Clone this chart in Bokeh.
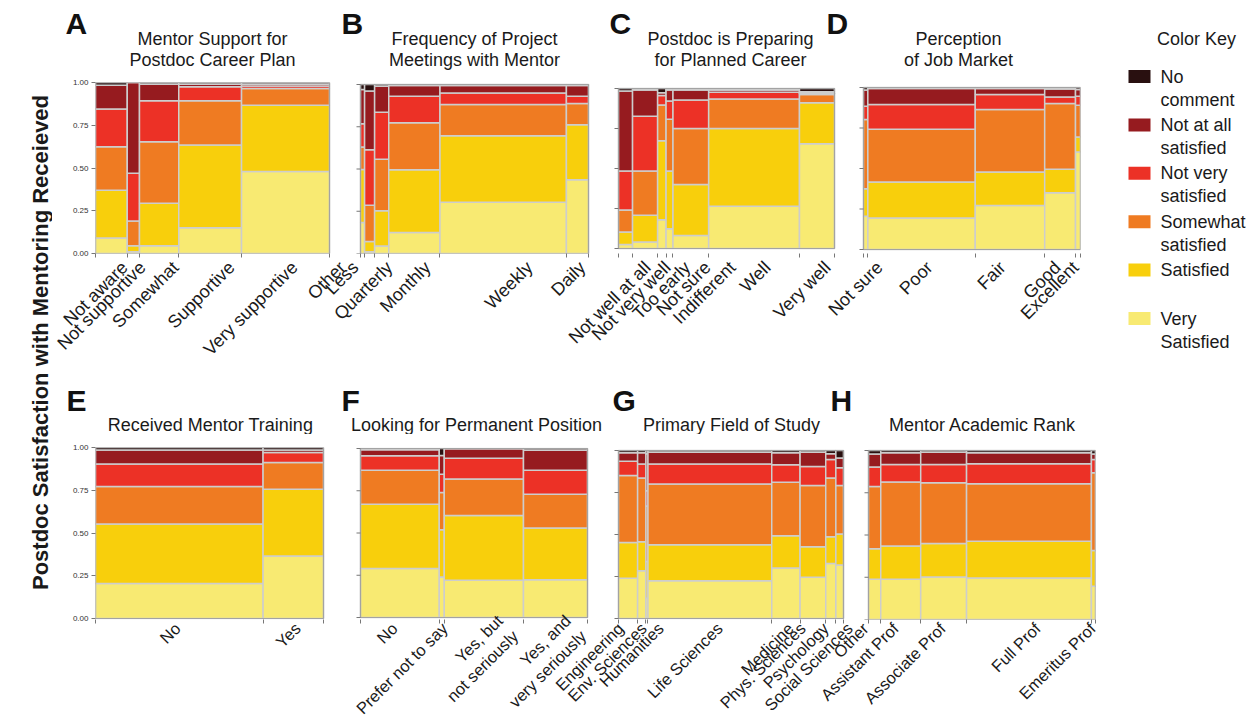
import math
from bokeh.plotting import figure
from bokeh.models import Range1d, FixedTicker, ColumnDataSource, NumeralTickFormatter
from bokeh.layouts import row, column
from bokeh.embed import file_html
from bokeh.resources import INLINE
from bokeh.core.properties import value

# ------------------------------------------------------------------ data
# satisfaction levels, stacked from the bottom of each column upward
LEVELS = ["Very Satisfied", "Satisfied", "Somewhat satisfied",
          "Not very satisfied", "Not at all satisfied", "No comment"]

# A  Mentor Support for Postdoc Career Plan
A_LABELS = ["Not aware", "Not supportive", "Somewhat", "Supportive", "Very supportive"]
A_WIDTHS = [13.5, 5.2, 16.7, 26.7, 37.4]
A_SHARES = [[9.0, 28.0, 25.5, 22.0, 13.9, 1.6],
            [1.0, 3.5, 14.5, 28.0, 53.0, 0.0],
            [4.5, 24.9, 35.9, 24.0, 9.7, 1.0],
            [15.0, 48.5, 25.8, 8.2, 1.5, 1.0],
            [48.0, 38.7, 9.8, 1.5, 1.0, 1.0]]

# B  Frequency of Project Meetings with Mentor
B_LABELS = ["Other", "Less", "Quarterly", "Monthly", "Weekly", "Daily"]
B_WIDTHS = [1.8, 4.4, 6.2, 22.5, 55.5, 9.7]
B_SHARES = [[18.4, 31.3, 13.3, 13.8, 20.2, 3.0],
            [1.0, 6.1, 21.4, 32.9, 34.8, 3.8],
            [4.4, 20.9, 30.5, 27.8, 15.4, 1.0],
            [12.5, 37.0, 27.9, 15.6, 6.4, 0.6],
            [30.3, 39.4, 18.4, 6.9, 4.4, 0.6],
            [43.6, 32.6, 12.5, 4.3, 6.4, 0.6]]

# C  Postdoc is Preparing for Planned Career
C_LABELS = ["Not well at all", "Not very well", "Too early", "Not sure",
            "Indifferent", "Well", "Very well"]
C_WIDTHS = [6.5, 11.6, 3.9, 3.2, 16.5, 42.0, 16.2]
C_SHARES = [[2.5, 7.8, 13.8, 24.4, 49.9, 1.6],
            [4.0, 16.8, 27.7, 34.2, 16.3, 1.0],
            [18.0, 49.4, 22.3, 6.0, 1.6, 2.7],
            [12.4, 36.1, 32.3, 11.4, 6.8, 1.0],
            [8.2, 31.8, 35.0, 17.8, 6.2, 1.0],
            [26.4, 48.6, 18.4, 4.3, 1.3, 1.0],
            [65.4, 25.7, 5.2, 0.8, 0.9, 2.0]]

# D  Perception of Job Market
D_LABELS = ["Not sure", "Poor", "Fair", "Good", "Excellent"]
D_WIDTHS = [2.0, 49.5, 32.0, 14.2, 2.3]
D_SHARES = [[20.6, 16.9, 42.7, 8.3, 9.9, 1.6],
            [19.4, 22.2, 32.6, 15.3, 9.9, 0.6],
            [27.2, 20.6, 38.6, 9.3, 3.7, 0.6],
            [35.0, 14.5, 40.6, 4.1, 4.8, 1.0],
            [60.2, 9.3, 19.6, 5.5, 4.2, 1.2]]

# E  Received Mentor Training
E_LABELS = ["No", "Yes"]
E_WIDTHS = [73.5, 26.5]
E_SHARES = [[20.5, 34.7, 22.0, 13.1, 8.3, 1.4],
            [36.6, 39.0, 15.6, 5.9, 1.5, 1.4]]

# F  Looking for Permanent Position
F_LABELS = ["No", "Prefer not to say", "Yes, but\nnot seriously", "Yes, and\nvery seriously"]
F_WIDTHS = [34.7, 2.2, 34.9, 28.2]
F_SHARES = [[29.0, 38.0, 20.2, 8.5, 3.5, 0.8],
            [24.0, 27.9, 22.1, 10.8, 11.1, 4.1],
            [22.1, 38.3, 21.6, 12.3, 5.5, 0.2],
            [22.3, 30.6, 20.1, 14.2, 11.8, 1.0]]

# G  Primary Field of Study
G_LABELS = ["Engineering", "Env. Sciences", "Humanities", "Life Sciences",
            "Medicine", "Phys. Sciences", "Psychology", "Social Sciences"]
G_WIDTHS = [8.5, 3.7, 0.9, 55.0, 12.6, 11.4, 4.5, 3.4]
G_SHARES = [[23.9, 21.4, 39.8, 8.5, 5.0, 1.4],
            [28.4, 17.3, 38.0, 8.3, 6.6, 1.4],
            [12.0, 22.0, 33.0, 9.0, 22.0, 2.0],
            [22.5, 21.4, 36.2, 11.9, 7.0, 1.0],
            [30.0, 19.3, 31.8, 10.4, 7.1, 1.4],
            [24.5, 18.2, 36.4, 11.4, 8.5, 1.0],
            [32.8, 15.9, 35.0, 10.9, 3.4, 2.0],
            [31.8, 18.5, 28.8, 10.6, 5.9, 4.4]]

# H  Mentor Academic Rank
H_LABELS = ["Other", "Assistant Prof", "Associate Prof", "Full Prof", "Emeritus Prof"]
H_WIDTHS = [5.4, 17.6, 20.2, 55.0, 1.8]
H_SHARES = [[23.8, 18.1, 36.8, 11.5, 7.8, 2.0],
            [23.8, 19.7, 37.8, 10.4, 6.9, 1.4],
            [25.2, 19.7, 36.0, 10.8, 7.3, 1.0],
            [24.6, 21.7, 34.0, 11.8, 6.5, 1.4],
            [19.7, 21.2, 45.9, 7.9, 3.3, 2.0]]

Y_TICKS = [0.0, 0.25, 0.5, 0.75, 1.0]

# ------------------------------------------------------------------ text
ROW1_TEXT = [("A", ["Mentor Support for", "Postdoc Career Plan"]),
             ("B", ["Frequency of Project", "Meetings with Mentor"]),
             ("C", ["Postdoc is Preparing", "for Planned Career"]),
             ("D", ["Perception", "of Job Market"])]
ROW2_TEXT = [("E", ["Received Mentor Training"]),
             ("F", ["Looking for Permanent Position"]),
             ("G", ["Primary Field of Study"]),
             ("H", ["Mentor Academic Rank"])]
Y_TITLE = "Postdoc Satisfaction with Mentoring Receieved"
KEY_TITLE = "Color Key"
KEY_LINES = [("No", "comment"), ("Not at all", "satisfied"), ("Not very", "satisfied"),
             ("Somewhat", "satisfied"), ("Satisfied", ""), ("Very", "Satisfied")]

# ------------------------------------------------------------------ style / layout (page pixels)
COLORS = ["#f8ea72", "#f8cf0c", "#ef7b22", "#ec3126", "#961b1f", "#291010"]  # bottom -> top
CELL_LINE = "#cdcdcd"
FRAME_LINE = "#a3a3a3"
TICK_COLOR = "#777777"
TEXT_COLOR = "#1a1a1a"
FONT = "Liberation Sans"

YLAB_W = 52
MAIN_W = 1048
KEY_W = 150
HEAD1_H, ROW1_H, HEAD2_H, ROW2_H = 76, 300, 58, 294
MAIN_X0 = YLAB_W

# panel boxes: (left, right, top, bottom)
ROW1_BOXES = [(95, 329, 82, 253), (360, 588, 84, 253), (618, 834, 88, 248), (863, 1080, 87, 249)]
ROW2_BOXES = [(95, 323, 447, 618), (360, 587, 448, 617), (618, 843, 450, 618), (868, 1095, 450, 619)]
# where the slanted category names end (they are spread apart, as in the original)
ROW1_LABEL_X = [[124, 142, 175, 231, 294],
                [342, 355, 389, 427, 529, 582],
                [647, 667, 687, 707, 732, 767, 827],
                [879, 929, 1002, 1057, 1075]]
ROW2_LABEL_X = [[177, 297],
                [394, 444, 507, 575],
                [620, 643, 660, 719, 790, 802, 825, 849],
                [865, 895, 942, 1037, 1092]]
ROW1_TICK_FONT, ROW1_STANDOFF = "18px", 7
ROW2_TICK_FONT, ROW2_STANDOFF = "16.5px", 2
ROW1_LETTER_X = [65, 341, 609, 826]
ROW2_LETTER_X = [66, 341, 612, 830]
ROW1_TITLE_X = [212, 474, 730, 958]
ROW2_TITLE_X = [210, 476, 731, 982]
ROW1_LETTER_Y, ROW1_TITLE_Y = 23, 38      # vertical centres of the capitals
ROW2_LETTER_Y, ROW2_TITLE_Y = 400, 424
TITLE_STEP = 21


def blank(width, height):
    f = figure(width=width, height=height, x_range=Range1d(0, width), y_range=Range1d(height, 0),
               min_border=0, x_axis_type=None, y_axis_type=None, toolbar_location=None,
               output_backend="svg", outline_line_color=None)
    f.grid.visible = False
    return f


def mosaic_row(panels, boxes, label_x, fig_top, fig_h, frame_right, tick_font, standoff):
    frame_left = boxes[0][0]
    frame_top = min(b[2] for b in boxes)
    frame_bottom = max(b[3] for b in boxes)
    p = figure(width=MAIN_W, height=fig_h, x_range=Range1d(frame_left, frame_right),
               y_range=Range1d(0, 1), output_backend="svg", toolbar_location=None,
               min_border_left=frame_left - MAIN_X0,
               min_border_right=MAIN_X0 + MAIN_W - frame_right,
               min_border_top=frame_top - fig_top,
               min_border_bottom=fig_top + fig_h - frame_bottom,
               outline_line_color=None)
    p.grid.visible = False
    ticks, bounds, overrides = [], [], {}
    for k, ((labels, widths, shares), (l, r, t, b), lx) in enumerate(zip(panels, boxes, label_x)):
        hpx = b - t
        start = -(frame_bottom - b) / hpx
        end = 1 + (t - frame_top) / hpx
        if k == 0:
            p.y_range = Range1d(start, end)
            name = "default"
        else:
            name = "panel%d" % k
            p.extra_y_ranges[name] = Range1d(start, end)
        tw = sum(widths)
        data = dict(left=[], right=[], bottom=[], top=[], color=[])
        x = l
        bounds.append(float(l))
        for lab, w, sh, anchor in zip(labels, widths, shares, lx):
            x1 = x + w / tw * (r - l)
            tot = sum(sh)
            y0 = 0.0
            for lvl, s in enumerate(sh):
                y1 = y0 + s / tot
                data["left"].append(x)
                data["right"].append(x1)
                data["bottom"].append(y0)
                data["top"].append(y1)
                data["color"].append(COLORS[lvl])
                y0 = y1
            ticks.append(float(anchor))
            overrides[float(anchor)] = lab
            x = x1
            bounds.append(round(x1, 3))
        p.quad(source=ColumnDataSource(data), left="left", right="right", bottom="bottom",
               top="top", fill_color="color", line_color=CELL_LINE, line_width=1.5,
               y_range_name=name)
        p.quad(left=[l], right=[r], bottom=[0], top=[1], fill_color=None,
               line_color=FRAME_LINE, line_width=1.2, y_range_name=name)
        if k > 0:
            p.ray(x=[l] * len(Y_TICKS), y=Y_TICKS, length=4, length_units="screen",
                  angle=math.pi, line_color=TICK_COLOR, line_width=1, y_range_name=name)

    xa = p.xaxis[0]
    xa.ticker = FixedTicker(ticks=ticks, minor_ticks=bounds)
    xa.major_label_overrides = overrides
    xa.major_label_orientation = math.pi / 4
    xa.major_label_text_font = FONT
    xa.major_label_text_font_size = tick_font
    xa.major_label_text_color = TEXT_COLOR
    xa.major_label_standoff = standoff
    xa.major_tick_out = 0
    xa.major_tick_in = 0
    xa.minor_tick_out = 4
    xa.minor_tick_in = 0
    xa.minor_tick_line_color = TICK_COLOR
    xa.axis_line_color = None

    ya = p.yaxis[0]
    ya.ticker = FixedTicker(ticks=Y_TICKS)
    ya.formatter = NumeralTickFormatter(format="0.00")
    ya.major_label_text_font = FONT
    ya.major_label_text_font_size = "8px"
    ya.major_label_text_color = "#333333"
    ya.major_label_standoff = 3
    ya.major_tick_out = 4
    ya.major_tick_in = 0
    ya.minor_tick_out = 0
    ya.major_tick_line_color = TICK_COLOR
    ya.axis_line_color = None
    return p


def header(height, page_top, texts, letter_x, title_x, letter_y, title_y):
    h = blank(MAIN_W, height)
    h.text(x=[lx - MAIN_X0 for lx in letter_x], y=[letter_y - page_top] * len(letter_x),
           text=[t[0] for t in texts], text_font=value(FONT), text_font_size="30px",
           text_font_style="bold", text_align="left", text_baseline="middle",
           text_color="#111111")
    xs, ys, ts = [], [], []
    for (letter, lines), tx in zip(texts, title_x):
        for i, line in enumerate(lines):
            xs.append(tx - MAIN_X0)
            ys.append(title_y - page_top + i * TITLE_STEP)
            ts.append(line)
    h.text(x=xs, y=ys, text=ts, text_font=value(FONT), text_font_size="18px",
           text_align="center", text_baseline="middle", text_color=TEXT_COLOR)
    return h


# ------------------------------------------------------------------ build
row1_top = HEAD1_H
head2_top = HEAD1_H + ROW1_H
row2_top = head2_top + HEAD2_H

head1 = header(HEAD1_H, 0, ROW1_TEXT, ROW1_LETTER_X, ROW1_TITLE_X, ROW1_LETTER_Y, ROW1_TITLE_Y)
head2 = header(HEAD2_H, head2_top, ROW2_TEXT, ROW2_LETTER_X, ROW2_TITLE_X,
               ROW2_LETTER_Y, ROW2_TITLE_Y)

row1 = mosaic_row([(A_LABELS, A_WIDTHS, A_SHARES), (B_LABELS, B_WIDTHS, B_SHARES),
                   (C_LABELS, C_WIDTHS, C_SHARES), (D_LABELS, D_WIDTHS, D_SHARES)],
                  ROW1_BOXES, ROW1_LABEL_X, row1_top, ROW1_H, 1080,
                  ROW1_TICK_FONT, ROW1_STANDOFF)
row2 = mosaic_row([(E_LABELS, E_WIDTHS, E_SHARES), (F_LABELS, F_WIDTHS, F_SHARES),
                   (G_LABELS, G_WIDTHS, G_SHARES), (H_LABELS, H_WIDTHS, H_SHARES)],
                  ROW2_BOXES, ROW2_LABEL_X, row2_top, ROW2_H, 1095,
                  ROW2_TICK_FONT, ROW2_STANDOFF)

# colour key
key_h = HEAD1_H + ROW1_H
key = blank(KEY_W, key_h)
key_x0 = YLAB_W + MAIN_W
key.text(x=[1196 - key_x0], y=[38], text=[KEY_TITLE], text_font=value(FONT),
         text_font_size="18px", text_align="center", text_baseline="middle",
         text_color=TEXT_COLOR)
key_colors = COLORS[::-1]
centers_y = [76 + i * 48.4 for i in range(len(KEY_LINES))]
key.rect(x=[1139 - key_x0] * len(KEY_LINES), y=centers_y, width=22, height=13,
         width_units="screen", height_units="screen", fill_color=key_colors, line_color=None)
key.text(x=[1160 - key_x0] * len(KEY_LINES), y=centers_y, text=[a for a, b in KEY_LINES],
         text_font=value(FONT), text_font_size="18px", text_align="left",
         text_baseline="middle", text_color=TEXT_COLOR)
key.text(x=[1160 - key_x0] * len(KEY_LINES), y=[c + 23 for c in centers_y],
         text=[b for a, b in KEY_LINES], text_font=value(FONT), text_font_size="18px",
         text_align="left", text_baseline="middle", text_color=TEXT_COLOR)

# vertical title
total_h = HEAD1_H + ROW1_H + HEAD2_H + ROW2_H
ylab = figure(width=YLAB_W, height=total_h, x_range=Range1d(0, YLAB_W), y_range=Range1d(0, total_h),
              min_border=0, x_axis_type=None, y_axis_type=None, toolbar_location=None,
              output_backend="svg", outline_line_color=None)
ylab.grid.visible = False
ylab.text(x=[40], y=[total_h - 342], text=[Y_TITLE], angle=math.pi / 2,
          text_font=value(FONT), text_font_size="22px", text_font_style="bold",
          text_align="center", text_baseline="middle", text_color=TEXT_COLOR)

layout = row(ylab, column(row(column(row(head1), row(row1)), key), row(head2), row(row2)))

open("out.html", "w").write(file_html(layout, INLINE))
